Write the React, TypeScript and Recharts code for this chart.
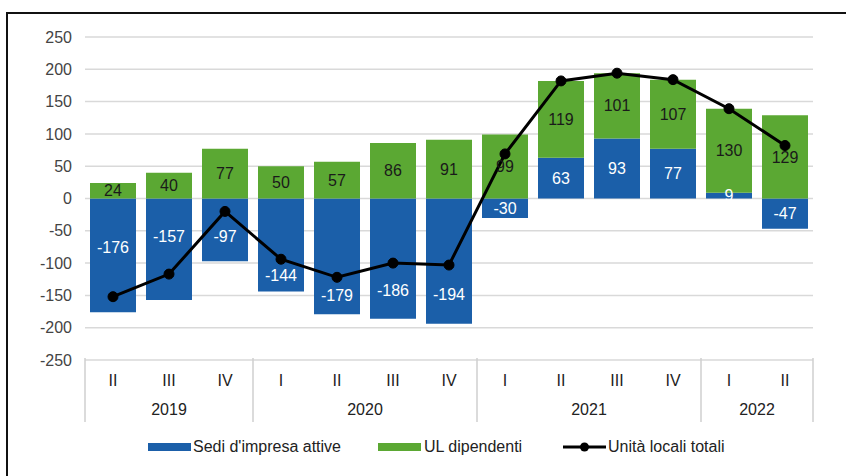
import React from "react";
import { Bar, CartesianGrid, ComposedChart, LabelList, Line, XAxis, YAxis } from "recharts";

const quarters = ["II", "III", "IV", "I", "II", "III", "IV", "I", "II", "III", "IV", "I", "II"];
const years = ["2019", "2020", "2021", "2022"];
const yearSpans = [3, 4, 4, 2];
const sediAttive = [-176, -157, -97, -144, -179, -186, -194, -30, 63, 93, 77, 9, -47];
const ulDipendenti = [24, 40, 77, 50, 57, 86, 91, 99, 119, 101, 107, 130, 129];
const unitaTotali = [-152, -117, -20, -94, -122, -100, -103, 69, 182, 194, 184, 139, 82];
const yTicks = [-250, -200, -150, -100, -50, 0, 50, 100, 150, 200, 250];

const data = quarters.map((q, i) => ({
  idx: i,
  q,
  sedi: sediAttive[i],
  ul: ulDipendenti[i],
  tot: unitaTotali[i],
}));

const BLUE = "#1b5fa9";
const GREEN = "#5ba833";
const FONT = "'Liberation Sans', Arial, sans-serif";

const W = 846;
const H = 476;
const LEFT = 85;
const RIGHT = 33;
const STEP = (W - LEFT - RIGHT) / quarters.length;

// group starts for the year row
const groupStarts: number[] = [];
yearSpans.reduce((acc, n) => {
  groupStarts.push(acc);
  return acc + n;
}, 0);

const QuarterTick = (props: any) => {
  const { x, y, index } = props;
  const g = groupStarts.indexOf(index);
  const last = index === quarters.length - 1;
  return (
    <g>
      <text x={x} y={y + 26} textAnchor="middle" fontSize={16} fill="#222" fontFamily={FONT}>
        {quarters[index]}
      </text>
      {g >= 0 && (
        <>
          <line x1={x - STEP / 2} x2={x - STEP / 2} y1={y - 2} y2={y + 62} stroke="#cfcfcf" strokeWidth={1.5} />
          <text
            x={x + ((yearSpans[g] - 1) * STEP) / 2}
            y={y + 55}
            textAnchor="middle"
            fontSize={16}
            fill="#222"
            fontFamily={FONT}
          >
            {years[g]}
          </text>
        </>
      )}
      {last && <line x1={x + STEP / 2} x2={x + STEP / 2} y1={y - 2} y2={y + 62} stroke="#cfcfcf" strokeWidth={1.5} />}
    </g>
  );
};

// blue labels: keep them off the total line when it crosses a negative bar
const SediLabel = (props: any) => {
  const vb = props.viewBox || props;
  const { x, y, width, height } = vb;
  const index = props.index;
  const value = sediAttive[index];
  const top = Math.min(y, y + height);
  const bottom = Math.max(y, y + height);
  let cy = (top + bottom) / 2;
  const tot = unitaTotali[index];
  if (value < 0 && tot < 0 && tot > value) {
    const lineY = top + ((0 - tot) * (bottom - top)) / Math.abs(value);
    cy = bottom - lineY >= 28 ? (lineY + bottom) / 2 : (top + lineY) / 2;
  }
  return (
    <text
      x={x + width / 2}
      y={cy}
      textAnchor="middle"
      dominantBaseline="central"
      fill="#fff"
      fontSize={16}
      fontFamily={FONT}
    >
      {value}
    </text>
  );
};

const legendText: React.CSSProperties = { fontSize: 16, color: "#222", fontFamily: FONT };

export default function App() {
  return (
    <div style={{ position: "absolute", left: 0, top: 0, width: W, height: H, background: "#fff", overflow: "hidden" }}>
      <div
        style={{
          position: "absolute",
          left: 6,
          top: 12,
          width: W,
          height: H,
          borderLeft: "2px solid #111",
          borderTop: "2px solid #111",
        }}
      />
      <div style={{ position: "absolute", left: 0, top: 0 }}>
        <ComposedChart
          width={W}
          height={H}
          data={data}
          stackOffset="sign"
          margin={{ top: 37, right: RIGHT, bottom: 46, left: 0 }}
        >
          <CartesianGrid vertical={false} stroke="#d9d9d9" strokeWidth={1.5} />
          <XAxis
            dataKey="idx"
            height={70}
            tickLine={false}
            axisLine={false}
            tickSize={0}
            tickMargin={0}
            interval={0}
            tick={<QuarterTick />}
          />
          <YAxis
            width={LEFT}
            domain={[-250, 250]}
            ticks={yTicks}
            tickLine={false}
            axisLine={false}
            tickSize={0}
            tickMargin={13}
            tick={{ fontSize: 16, fill: "#444", fontFamily: FONT }}
          />
          <Bar dataKey="sedi" stackId="a" fill={BLUE} barSize={46} isAnimationActive={false}>
            <LabelList dataKey="sedi" content={<SediLabel />} />
          </Bar>
          <Bar dataKey="ul" stackId="a" fill={GREEN} barSize={46} isAnimationActive={false}>
            <LabelList dataKey="ul" position="center" fill="#1a1a1a" fontSize={16} fontFamily={FONT} />
          </Bar>
          <Line
            dataKey="tot"
            type="linear"
            stroke="#000"
            strokeWidth={3}
            dot={{ r: 5, fill: "#000", stroke: "#000", strokeWidth: 1 }}
            isAnimationActive={false}
          />
        </ComposedChart>
      </div>
      <div style={{ position: "absolute", top: 438, left: 148, display: "flex", alignItems: "center" }}>
        <span style={{ display: "inline-block", width: 43, height: 8, background: BLUE, marginRight: 2 }} />
        <span style={legendText}>Sedi d'impresa attive</span>
      </div>
      <div style={{ position: "absolute", top: 438, left: 378, display: "flex", alignItems: "center" }}>
        <span style={{ display: "inline-block", width: 43, height: 8, background: GREEN, marginRight: 3 }} />
        <span style={legendText}>UL dipendenti</span>
      </div>
      <div style={{ position: "absolute", top: 438, left: 563, display: "flex", alignItems: "center" }}>
        <svg width={43} height={12} style={{ marginRight: 2 }}>
          <line x1={0} x2={43} y1={6} y2={6} stroke="#000" strokeWidth={3} />
          <circle cx={21.5} cy={6} r={4.5} fill="#000" />
        </svg>
        <span style={legendText}>Unità locali totali</span>
      </div>
    </div>
  );
}
